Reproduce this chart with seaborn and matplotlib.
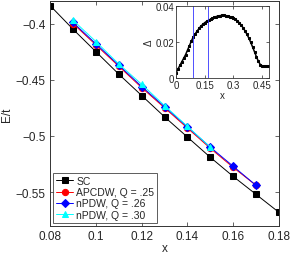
import numpy as np
import pandas as pd
import matplotlib
matplotlib.use("Agg")
import matplotlib.pyplot as plt
import seaborn as sns

# --- Data ---
sc_x = [0.08, 0.09, 0.10, 0.11, 0.12, 0.13, 0.14, 0.15, 0.16, 0.17, 0.18]
sc_E = [-0.384, -0.405, -0.425, -0.445, -0.464, -0.483, -0.501, -0.519, -0.536, -0.552, -0.568]

apcdw_x = [0.09, 0.10, 0.11, 0.12, 0.13, 0.14, 0.15, 0.16, 0.17]
apcdw_E = [-0.400, -0.419, -0.438, -0.457, -0.475, -0.493, -0.511, -0.528, -0.544]

npdw26_x = [0.09, 0.10, 0.11, 0.12, 0.13, 0.14, 0.15, 0.16, 0.17]
npdw26_E = [-0.399, -0.418, -0.437, -0.456, -0.474, -0.492, -0.510, -0.527, -0.544]

npdw30_x = [0.09, 0.10, 0.11, 0.12, 0.13, 0.14, 0.15]
npdw30_E = [-0.397, -0.416, -0.436, -0.454, -0.473, -0.4915, -0.510]

gap_x = [0.00, 0.01, 0.02, 0.03, 0.04, 0.05, 0.06, 0.07, 0.08, 0.09,
         0.10, 0.11, 0.12, 0.13, 0.14, 0.15, 0.16, 0.17, 0.18, 0.19,
         0.20, 0.21, 0.22, 0.23, 0.24, 0.25, 0.26, 0.27, 0.28, 0.29,
         0.30, 0.31, 0.32, 0.33, 0.34, 0.35, 0.36, 0.37, 0.38, 0.39,
         0.40, 0.41, 0.42, 0.43, 0.44, 0.45, 0.46, 0.47, 0.48]
gap_D = [0.0030, 0.0050, 0.0070, 0.0090, 0.0110, 0.0130, 0.0155, 0.0180, 0.0205, 0.0228,
         0.0245, 0.0260, 0.0275, 0.0288, 0.0298, 0.0307, 0.0315, 0.0320, 0.0326, 0.0332,
         0.0337, 0.0341, 0.0344, 0.0346, 0.0347, 0.0347, 0.0346, 0.0344, 0.0341, 0.0337,
         0.0332, 0.0325, 0.0317, 0.0307, 0.0294, 0.0279, 0.0262, 0.0243, 0.0222, 0.0198,
         0.0172, 0.0145, 0.0118, 0.0093, 0.0075, 0.0068, 0.0066, 0.0067, 0.0067]
doping_lines = [0.09, 0.167]

# --- Style ---
sns.set_style("ticks")
plt.rcParams["font.family"] = ["Liberation Sans", "DejaVu Sans"]
plt.rcParams["axes.unicode_minus"] = True

fig = plt.figure(figsize=(2.91, 2.55), dpi=100)
ax = fig.add_axes([0.172, 0.110, 0.787, 0.882])

series = [
    ("SC", sc_x, sc_E, "black", "s", 4.0),
    ("APCDW, Q = .25", apcdw_x, apcdw_E, "red", "o", 4.5),
    ("nPDW, Q = .26", npdw26_x, npdw26_E, "blue", "D", 4.0),
    ("nPDW, Q = .30", npdw30_x, npdw30_E, "cyan", "^", 5.0),
]
for label, xs, ys, col, mk, ms in series:
    sns.lineplot(x=xs, y=ys, ax=ax, color=col, marker=mk, markersize=ms,
                 markeredgecolor=col, linewidth=0.7, label=label)

ax.set_xlim(0.08, 0.18)
ax.set_ylim(-0.58, -0.38)
ax.set_xticks([0.08, 0.10, 0.12, 0.14, 0.16, 0.18])
ax.set_xticklabels(["0.08", "0.1", "0.12", "0.14", "0.16", "0.18"])
ax.set_yticks([-0.4, -0.45, -0.5, -0.55])
ax.set_yticklabels(["\u22120.4", "\u22120.45", "\u22120.5", "\u22120.55"])
ax.tick_params(direction="in", top=True, right=True, labelsize=8.5, length=3, width=0.5, pad=3)
for s in ax.spines.values():
    s.set_linewidth(0.7)
    s.set_color("#333333")
ax.set_xlabel("x", fontsize=8.5, labelpad=0)
ax.set_ylabel("E/t", fontsize=8.5, labelpad=2)
leg = ax.legend(loc="lower left", fontsize=7.5, frameon=True, fancybox=False,
                edgecolor="#333333", handlelength=1.6, handletextpad=0.3,
                borderpad=0.3, labelspacing=0.12, borderaxespad=0.3)
leg.get_frame().set_linewidth(0.7)

# --- Inset: gap vs doping ---
ins = fig.add_axes([0.605, 0.690, 0.319, 0.283])
sns.lineplot(x=gap_x, y=gap_D, ax=ins, color="black", marker="s", markersize=2.0,
             markeredgecolor="black", linewidth=1.1)
for xv in doping_lines:
    ins.axvline(xv, color="#3333ff", linewidth=0.6)
ins.set_xlim(0, 0.485)
ins.set_ylim(0, 0.04)
ins.set_xticks([0, 0.15, 0.3, 0.45])
ins.set_xticklabels(["0", "0.15", "0.3", "0.45"])
ins.set_yticks([0, 0.02, 0.04])
ins.set_yticklabels(["0", "0.02", "0.04"])
ins.tick_params(direction="in", top=True, right=True, labelsize=7, length=2, width=0.5, pad=1.5)
for s in ins.spines.values():
    s.set_linewidth(0.6)
    s.set_color("#333333")
ins.set_xlabel("x", fontsize=7, labelpad=0)
ins.set_ylabel("\u0394", fontsize=7, labelpad=1)

fig.savefig("out.png", dpi=100)
